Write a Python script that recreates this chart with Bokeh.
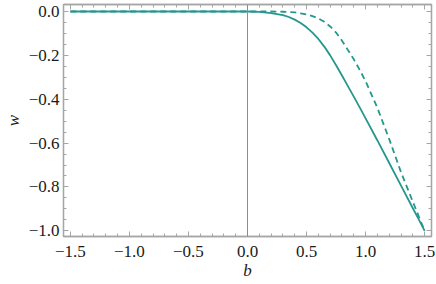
from bokeh.plotting import figure
from bokeh.models import Range1d, LinearAxis, Span, FixedTicker
from bokeh.embed import file_html
from bokeh.resources import INLINE

# data
b_vals = [-1.5, -1.0, -0.5, -0.2, 0.0, 0.1, 0.2, 0.3, 0.35, 0.4, 0.45, 0.5, 0.55, 0.6, 0.65, 0.7, 0.75, 0.8, 0.85, 0.9, 0.95, 1.0, 1.1, 1.2, 1.3, 1.4, 1.45, 1.5]
w_solid = [0.0, 0.0, 0.0, 0.0, 0.0, -0.002, -0.007, -0.016, -0.025, -0.037, -0.052, -0.072, -0.096, -0.125, -0.16, -0.2, -0.245, -0.292, -0.34, -0.388, -0.437, -0.487, -0.588, -0.691, -0.794, -0.897, -0.948, -1.0]
w_dashed = [0.0, 0.0, 0.0, 0.0, 0.0, 0.0, 0.0, -0.001, -0.002, -0.004, -0.008, -0.013, -0.021, -0.032, -0.047, -0.068, -0.096, -0.133, -0.175, -0.218, -0.266, -0.318, -0.44, -0.582, -0.733, -0.868, -0.934, -1.0]

x_major = [-1.5, -1.0, -0.5, 0.0, 0.5, 1.0, 1.5]
x_minor = [round(-1.5 + 0.1 * i, 2) for i in range(31)]
y_major = [-1.0, -0.8, -0.6, -0.4, -0.2, 0.0]
y_minor = [round(-1.0 + 0.05 * i, 2) for i in range(21)]

FONT = "'Liberation Serif', 'Times New Roman', serif"
FRAME = "#a6a6a6"
TEAL = "#26978c"

p = figure(width=436, height=284, output_backend="svg", toolbar_location=None,
           x_range=Range1d(-1.558, 1.558), y_range=Range1d(-1.026, 0.032),
           min_border_left=57, min_border_right=5, min_border_top=4, min_border_bottom=48,
           x_axis_label="b", y_axis_label="w")
p.grid.visible = False
p.outline_line_color = FRAME
p.outline_line_width = 1.3
p.background_fill_color = "white"
p.border_fill_color = "white"

def style(ax, labels=True):
    ax.axis_line_color = FRAME
    ax.axis_line_width = 1.3
    ax.major_tick_line_color = FRAME
    ax.minor_tick_line_color = FRAME
    ax.major_tick_in = 5
    ax.major_tick_out = 0
    ax.minor_tick_in = 3
    ax.minor_tick_out = 0
    ax.major_label_text_font = FONT
    ax.major_label_text_font_size = "17px" if labels else "0px"
    ax.major_label_text_color = "#1a1a1a"
    ax.major_label_standoff = 4 if labels else 0
    ax.axis_label_text_font = FONT
    ax.axis_label_text_font_style = "italic"
    ax.axis_label_text_font_size = "17px"
    ax.axis_label_text_color = "#1a1a1a"

p.xaxis.ticker = FixedTicker(ticks=x_major, minor_ticks=x_minor)
p.yaxis.ticker = FixedTicker(ticks=y_major, minor_ticks=y_minor)
style(p.xaxis[0])
style(p.yaxis[0])
p.xaxis.major_label_overrides = {v: f"{v:.1f}".replace("-", "\u2212") for v in x_major}
p.yaxis.major_label_overrides = {v: f"{v:.1f}".replace("-", "\u2212") for v in y_major}
p.xaxis.major_label_standoff = 9
p.xaxis.axis_label_standoff = 1
p.yaxis.axis_label_standoff = 3

top = LinearAxis(ticker=FixedTicker(ticks=x_major, minor_ticks=x_minor))
style(top, labels=False)
top.major_label_overrides = {v: "" for v in x_major}
right = LinearAxis(ticker=FixedTicker(ticks=y_major, minor_ticks=y_minor))
style(right, labels=False)
right.major_label_overrides = {v: "" for v in y_major}
p.add_layout(top, "above")
p.add_layout(right, "right")

p.add_layout(Span(location=0, dimension="height", line_color="#8c8c8c", line_width=1))

p.line(b_vals, w_dashed, line_color=TEAL, line_width=1.8, line_dash="6 4")
p.line(b_vals, w_solid, line_color=TEAL, line_width=1.8)

open("out.html", "w").write(file_html(p, INLINE))
